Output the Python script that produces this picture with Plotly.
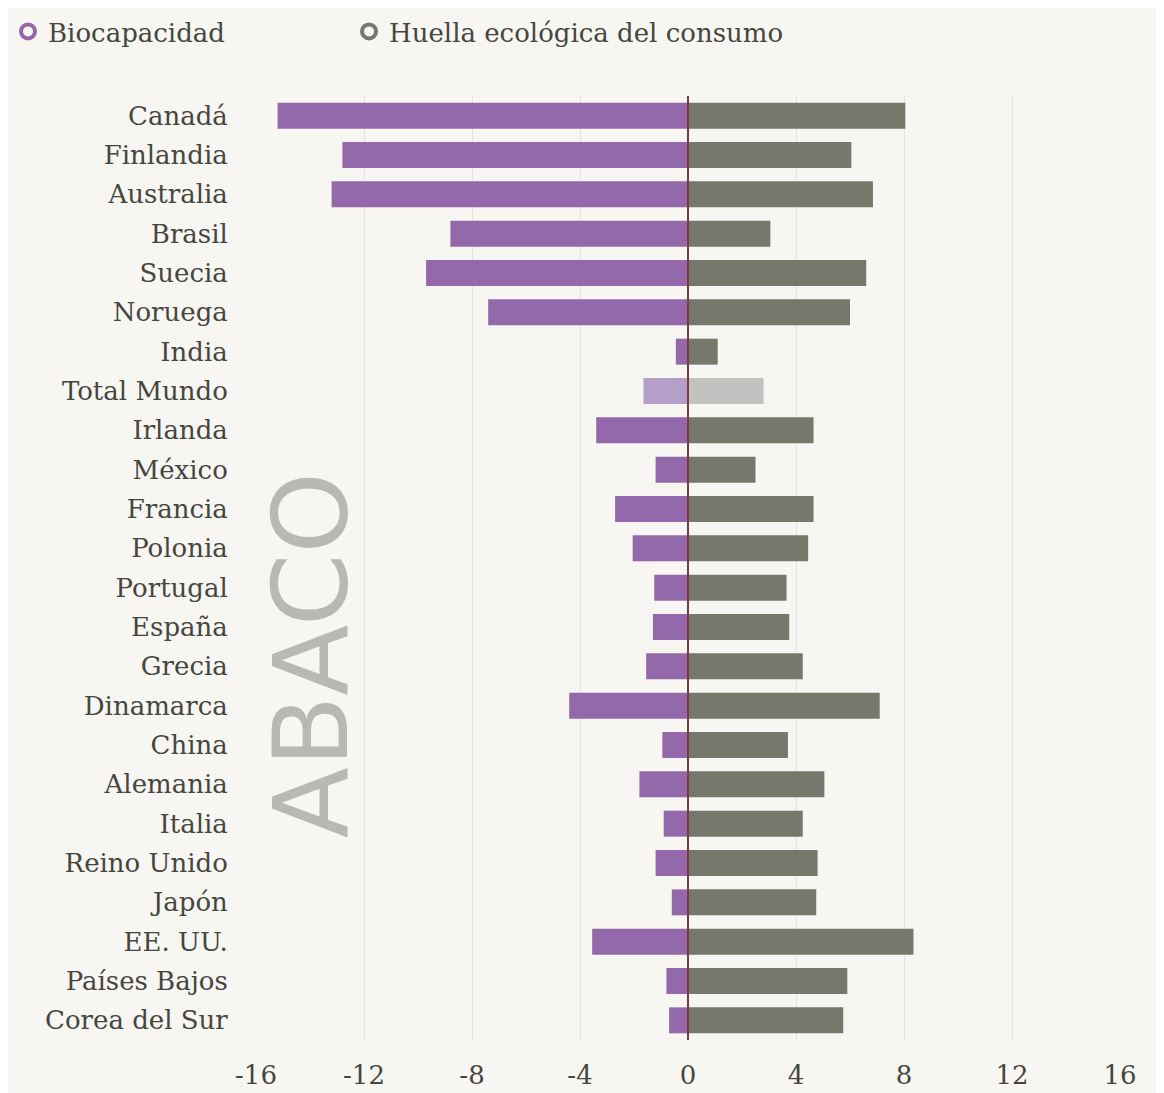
import plotly.graph_objects as go

countries = ["Canadá", "Finlandia", "Australia", "Brasil", "Suecia", "Noruega", "India",
             "Total Mundo", "Irlanda", "México", "Francia", "Polonia", "Portugal", "España",
             "Grecia", "Dinamarca", "China", "Alemania", "Italia", "Reino Unido", "Japón",
             "EE. UU.", "Países Bajos", "Corea del Sur"]
biocapacidad = [15.2, 12.8, 13.2, 8.8, 9.7, 7.4, 0.45, 1.65, 3.4, 1.2, 2.7, 2.05, 1.25, 1.3,
                1.55, 4.4, 0.95, 1.8, 0.9, 1.2, 0.6, 3.55, 0.8, 0.7]
huella = [8.05, 6.05, 6.85, 3.05, 6.6, 6.0, 1.1, 2.8, 4.65, 2.5, 4.65, 4.45, 3.65, 3.75,
          4.25, 7.1, 3.7, 5.05, 4.25, 4.8, 4.75, 8.35, 5.9, 5.75]
x_ticks = [-16, -12, -8, -4, 0, 4, 8, 12, 16]

PURPLE = "#9469ab"
PURPLE_L = "#b39fc7"
GRAY = "#77776b"
GRAY_L = "#c2c2c0"
TEXT = "#46463e"
BG = "#f7f6f2"
FONT = "DejaVu Serif"
FS = 26

bio_colors = [PURPLE_L if c == "Total Mundo" else PURPLE for c in countries]
hue_colors = [GRAY_L if c == "Total Mundo" else GRAY for c in countries]

fig = go.Figure()
fig.add_trace(go.Bar(y=countries, x=[-v for v in biocapacidad], orientation="h",
                     marker=dict(color=bio_colors, line=dict(width=0)), width=0.66,
                     showlegend=False, name="Biocapacidad"))
fig.add_trace(go.Bar(y=countries, x=huella, orientation="h",
                     marker=dict(color=hue_colors, line=dict(width=0)), width=0.66,
                     showlegend=False, name="Huella ecológica del consumo"))
fig.add_trace(go.Scatter(x=[None], y=[None], mode="markers", name="Biocapacidad",
                         legend="legend",
                         marker=dict(symbol="circle-open", size=14, color=PURPLE,
                                     line=dict(width=4, color=PURPLE))))
fig.add_trace(go.Scatter(x=[None], y=[None], mode="markers", name="Huella ecológica del consumo",
                         legend="legend2",
                         marker=dict(symbol="circle-open", size=14, color=GRAY,
                                     line=dict(width=4, color=GRAY))))

fig.add_shape(type="line", xref="x", yref="paper", x0=0, x1=0, y0=0, y1=1,
              line=dict(color="#7d3b3b", width=2), layer="above")

fig.add_annotation(text="ABACO", xref="paper", yref="paper", x=0.064, y=0.408,
                   xanchor="center", yanchor="middle",
                   textangle=-90, showarrow=False,
                   font=dict(family="DejaVu Sans", size=104, color="#b9b9b3"))

leg_common = dict(orientation="h", xref="container", yref="container",
                  xanchor="left", yanchor="top", itemwidth=30,
                  font=dict(family=FONT, size=FS, color=TEXT), bgcolor="rgba(0,0,0,0)")

fig.update_layout(
    width=1156, height=1085,
    paper_bgcolor=BG, plot_bgcolor=BG,
    margin=dict(l=248, r=44, t=88, b=53, autoexpand=False),
    barmode="relative", bargap=0.34,
    font=dict(family=FONT, size=FS, color=TEXT),
    legend=dict(x=0.0, y=1.0, **leg_common),
    legend2=dict(x=0.295, y=1.0, **leg_common),
    xaxis=dict(range=[-16, 16], tickvals=x_ticks, ticktext=[str(v) for v in x_ticks],
               showgrid=True, gridcolor="#e4e3df", gridwidth=1, zeroline=False,
               showline=False, ticks="outside", ticklen=12, tickcolor="rgba(0,0,0,0)",
               tickfont=dict(family=FONT, size=FS, color=TEXT), fixedrange=True),
    yaxis=dict(autorange="reversed", categoryorder="array", categoryarray=countries,
               showgrid=False, zeroline=False, ticks="outside", ticklen=22,
               tickcolor="rgba(0,0,0,0)",
               tickfont=dict(family=FONT, size=FS, color=TEXT)),
)

fig.write_html("out.html")
